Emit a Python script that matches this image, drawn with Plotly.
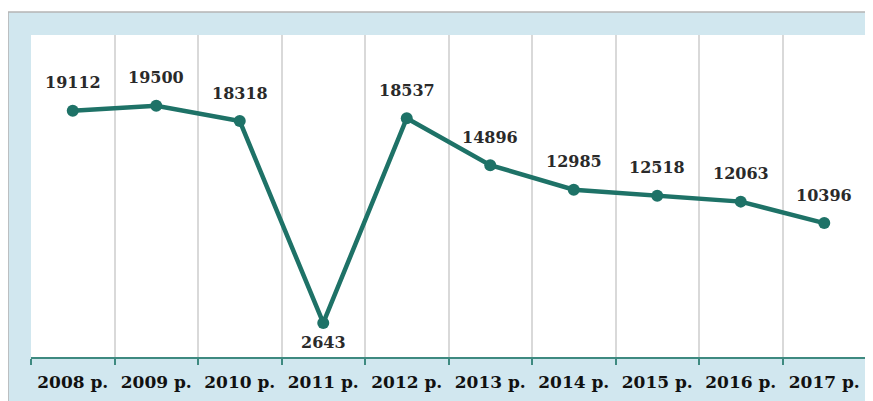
import plotly.graph_objects as go

years = ["2008 р.", "2009 р.", "2010 р.", "2011 р.", "2012 р.",
         "2013 р.", "2014 р.", "2015 р.", "2016 р.", "2017 р."]
values = [19112, 19500, 18318, 2643, 18537, 14896, 12985, 12518, 12063, 10396]
below = ["2011 р."]

LINE = "#1E7267"
FRAME = "#D1E7EF"
FONT = "DejaVu Serif"

fig = go.Figure(go.Scatter(
    x=years, y=values,
    mode="lines+markers",
    line=dict(color=LINE, width=4.5),
    marker=dict(color=LINE, size=12),
    hoverinfo="skip",
))

for yr, v in zip(years, values):
    fig.add_annotation(
        x=yr, y=v, text=f"<b>{v}</b>", showarrow=False,
        yshift=-20 if yr in below else 28,
        font=dict(family=FONT, size=16, color="#2a2a2a"),
    )

# light blue frame with a thin grey top edge, white plot area on top of it
fig.add_shape(type="rect", xref="paper", yref="paper",
              x0=-0.0275, x1=1.03, y0=-0.16, y1=1.0714,
              fillcolor=FRAME, line=dict(color="#B5B5B5", width=1.5), layer="below")
fig.add_shape(type="rect", xref="paper", yref="paper",
              x0=0, x1=1, y0=0, y1=1,
              fillcolor="white", line=dict(width=0), layer="below")

# page body has an 8px margin, so the figure is sized to the visible area
fig.update_layout(
    width=865, height=393,
    margin=dict(l=23, r=7, t=27, b=44),
    paper_bgcolor="white",
    plot_bgcolor="white",
    showlegend=False,
    xaxis=dict(
        type="category",
        range=[-0.5, 9.5],
        tickson="boundaries",
        showgrid=True, gridcolor="#D9D9D9", gridwidth=1.5,
        showline=True, linecolor="#3E8A80", linewidth=2,
        ticks="outside", ticklen=6, tickcolor="#3E8A80", tickwidth=2,
        ticklabelstandoff=9,
        tickfont=dict(family=FONT, size=17, color="#111111", weight="bold"),
        fixedrange=True,
    ),
    yaxis=dict(range=[0, 25000], visible=False, showgrid=False,
               zeroline=False, fixedrange=True),
)

fig.write_html("out.html")
